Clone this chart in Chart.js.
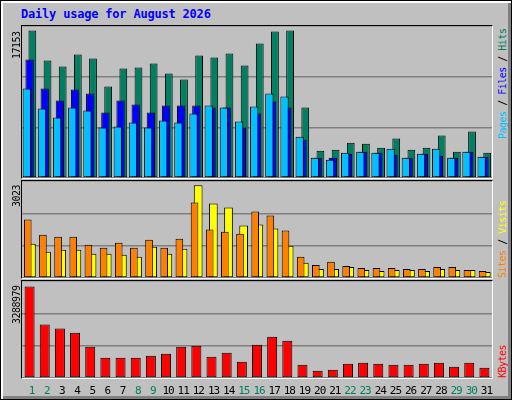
<!DOCTYPE html>
<html>
<head>
<meta charset="utf-8">
<script src="https://cdn.jsdelivr.net/npm/chart.js@4"></script>
<style>
  body { margin: 0; }
  #frame { position: relative; width: 510px; height: 398px; background: #c0c0c0; border: 1px solid #000; box-shadow: inset 2px 2px 0 #fff, inset -3px -3px 0 #808080; font-family: "DejaVu Sans Mono", monospace; }
  .panel { position: absolute; left: 20px; width: 470px; border-top: 1px solid #000; border-left: 1px solid #000; border-right: 1px solid #fff; border-bottom: 1px solid #fff; }
  .panel canvas { display: block; }
  .rot { position: absolute; transform-origin: left top; transform: rotate(-90deg); white-space: nowrap; font-size: 10px; letter-spacing: -0.5px; line-height: 12px; }
  .day { position: absolute; top: 383px; width: 20px; margin-left: -10px; text-align: center; font-size: 11px; letter-spacing: -1px; }
  #title { position: absolute; left: 20px; top: 6px; color: #0000ff; font-weight: bold; font-size: 12px; letter-spacing: -0.2px; }
</style>
</head>
<body>
<div id="frame">
  <div id="title">Daily usage for August 2026</div>
  <div class="panel" style="top:24px;height:152px"><canvas id="c1" width="470" height="152"></canvas></div>
  <div class="panel" style="top:179px;height:97px"><canvas id="c2" width="470" height="97"></canvas></div>
  <div class="panel" style="top:279px;height:97px"><canvas id="c3" width="470" height="97"></canvas></div>
  <div class="rot" style="left:10px;top:58px">17153</div>
  <div class="rot" style="left:10px;top:206px">3023</div>
  <div class="rot" style="left:10px;top:323px">3288979</div>
  <div class="rot" style="left:496px;top:138px"><span style="color:#00c0ff">Pages</span> / <span style="color:#0000ff">Files</span> / <span style="color:#008060">Hits</span></div>
  <div class="rot" style="left:496px;top:277px"><span style="color:#ff8000">Sites</span> / <span style="color:#ffff00">Visits</span></div>
  <div class="rot" style="left:496px;top:377px"><span style="color:#ff0000">KBytes</span></div>
  <div id="days"></div>
</div>
<script>
const days = ['1','2','3','4','5','6','7','8','9','10','11','12','13','14','15','16','17','18','19','20','21','22','23','24','25','26','27','28','29','30','31'];
const weekend = ['1','2','8','9','15','16','22','23','29','30'];
const hits = [17153,13661,12962,14359,13894,10634,12729,12846,13312,12147,11449,14243,14010,14476,13079,15640,17037,17153,8189,3182,3299,4114,3997,3532,4580,3299,3532,4929,3066,5394,2950];
const files = [13778,10401,9004,10285,9819,7607,9004,8538,7607,8422,8422,8422,8189,8189,5860,7490,8887,8189,4463,2367,2367,2833,3066,2950,2717,2367,2833,2600,2367,3066,2484];
const pages = [10401,8072,7025,8189,7840,5860,5977,6442,5860,6675,6442,7490,8422,8189,6559,8305,9819,9470,4812,2367,2135,2950,3066,2950,3415,2367,2833,3415,2367,3066,2484];
const visits = [1117,854,920,920,788,788,756,690,1018,788,953,3023,2431,2300,1708,1741,1610,1051,493,296,296,361,263,230,263,263,230,296,263,263,197];
const sites = [1905,1413,1347,1347,1084,986,1150,986,1248,986,1281,2464,1577,1511,1445,2168,2037,1544,690,427,526,394,329,329,329,296,296,361,361,263,230];
const kbytes = [3288979,1920640,1776592,1632544,1128376,732244,732244,732244,804268,876292,1128376,1164388,768256,912304,588196,1200400,1488496,1344448,480160,264088,300100,516172,552184,516172,480160,480160,516172,552184,408136,552184,372124];

const dayBox = document.getElementById('days');
days.forEach((d, i) => {
  const s = document.createElement('div');
  s.className = 'day';
  s.style.left = (21 + (i + 0.5) * 470 / 31 + 2) + 'px';
  s.style.color = weekend.includes(d) ? '#008060' : '#000';
  s.textContent = d;
  dayBox.appendChild(s);
});

function makeChart(id, datasets, max, catPct) {
  return new Chart(document.getElementById(id), {
    type: 'bar',
    data: { labels: days, datasets: datasets },
    options: {
      responsive: false,
      animation: false,
      layout: { padding: 0 },
      plugins: { legend: { display: false }, tooltip: { enabled: false } },
      datasets: { bar: { categoryPercentage: catPct, borderColor: '#000', borderWidth: 1, borderSkipped: false } },
      scales: {
        x: { display: false, offset: true },
        y: {
          min: 0, max: max,
          ticks: { display: false, stepSize: max / 3 },
          grid: { color: '#808080', lineWidth: 1.5, drawTicks: false },
          border: { display: false }
        }
      }
    }
  });
}

// higher order is drawn first, so the last series ends up on top
makeChart('c1', [
  { data: hits, backgroundColor: '#008060', barPercentage: 2.8, order: 3 },
  { data: files, backgroundColor: '#0000ff', barPercentage: 3.0, order: 2 },
  { data: pages, backgroundColor: '#00c0ff', barPercentage: 3.0, order: 1 }
], 17678, 0.55);

makeChart('c2', [
  { data: visits, backgroundColor: '#ffff00', barPercentage: 2.4, order: 2 },
  { data: sites, backgroundColor: '#ff8000', barPercentage: 2.1, order: 1 }
], 3161, 0.48);

makeChart('c3', [
  { data: kbytes, backgroundColor: '#ff0000', barPercentage: 0.66 }
], 3490000, 1);
</script>
</body>
</html>
